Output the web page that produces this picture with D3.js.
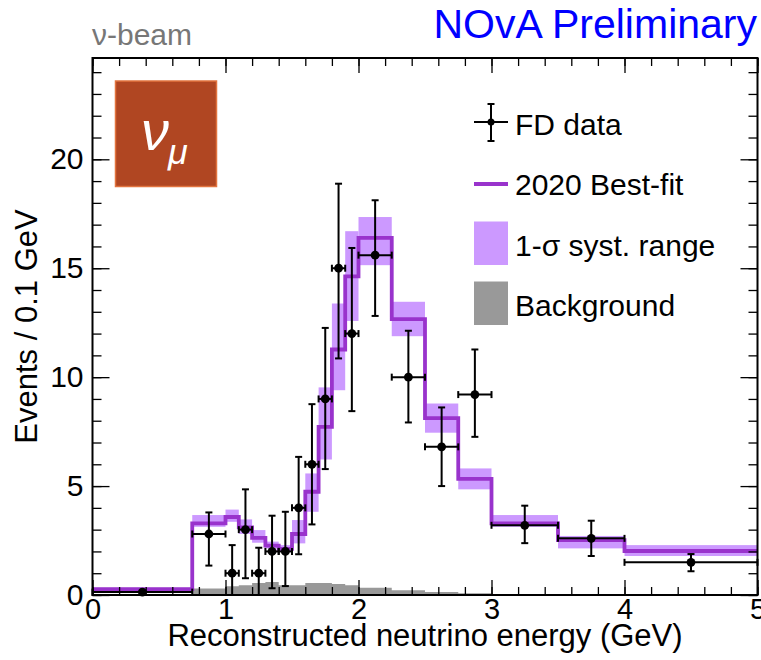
<!DOCTYPE html>
<html>
<head>
<meta charset="utf-8">
<script src="https://cdn.jsdelivr.net/npm/d3@7"></script>
<style>
  html, body { margin: 0; padding: 0; background: #fff; }
  svg { display: block; }
  text { font-family: "Liberation Sans", Arial, Helvetica, sans-serif; }
</style>
</head>
<body>
<svg id="chart" width="761" height="660"></svg>
<script>
// Reconstructed energy binning (GeV)
const binEdges = [0, 0.75, 1.0, 1.1, 1.2, 1.3, 1.4, 1.5, 1.6, 1.7, 1.8, 1.9, 2.0, 2.25, 2.5, 2.75, 3.0, 3.5, 4.0, 5.0];

// 2020 best-fit prediction, events / 0.1 GeV
const bestFit = [0.27, 3.29, 3.58, 3.10, 2.62, 2.27, 2.12, 2.80, 4.74, 7.72, 11.27, 14.63, 16.39, 12.66, 8.12, 5.33, 3.29, 2.52, 2.02];

// 1-sigma systematic range
const systLow  = [0.21, 3.13, 3.36, 2.80, 2.40, 2.14, 2.03, 2.37, 3.82, 6.22, 9.40, 12.58, 15.14, 11.88, 7.45, 4.85, 3.13, 2.14, 1.79];
const systHigh = [0.33, 3.67, 3.92, 3.47, 2.98, 2.45, 2.29, 3.44, 5.58, 9.53, 13.38, 16.70, 17.35, 13.46, 8.79, 5.81, 3.67, 2.71, 2.29];

// Predicted background
const background = [0.0, 0.30, 0.40, 0.45, 0.55, 0.60, 0.45, 0.45, 0.55, 0.55, 0.50, 0.45, 0.33, 0.22, 0.14, 0.08, 0.04, 0.02, 0.01];

// Far Detector data with asymmetric error bar ends
const dataVal  = [0.133, 2.8, 1.0, 3.0, 1.0, 2.0, 2.0, 4.0, 6.0, 9.0, 15.0, 12.0, 15.6, 10.0, 6.8, 9.2, 3.2, 2.6, 1.5];
const dataHigh = [0.20, 3.79, 2.29, 4.85, 2.17, 3.64, 3.82, 6.34, 8.76, 12.26, 18.88, 15.93, 18.12, 12.13, 8.61, 11.27, 4.10, 3.41, 1.88];
const dataLow  = [0.08, 1.35, 0.0, 0.77, 0.0, 0.31, 0.41, 1.87, 3.24, 5.78, 10.86, 8.44, 12.81, 7.92, 5.00, 7.26, 2.38, 1.79, 1.09];

const xTicks = [0, 1, 2, 3, 4, 5];
const yTicks = [0, 5, 10, 15, 20];

const legendLabels = ["FD data", "2020 Best-fit", "1-\u03c3 syst. range", "Background"];

const colors = {
  fit: "#9933cc",
  band: "#cc99ff",
  bkg: "#999999",
  data: "#000000",
  box: "#b04622",
  boxEdge: "#e2743f"
};

const svg = d3.select("#chart");
const frame = { left: 92.5, right: 757.5, top: 58, bottom: 595 };

const x = d3.scaleLinear().domain([0, 5]).range([frame.left, frame.right]);
const y = d3.scaleLinear().domain([0, 24.65]).range([frame.bottom, frame.top]);

const bins = binEdges.slice(0, -1).map((x0, i) => ({
  x0, x1: binEdges[i + 1], xc: (x0 + binEdges[i + 1]) / 2,
  fit: bestFit[i], lo: systLow[i], hi: systHigh[i], bkg: background[i],
  val: dataVal[i], eHi: dataHigh[i], eLo: dataLow[i]
}));

// step-shaped series: one point per bin left edge plus closing point
const stepPts = key => bins.map(b => [b.x0, b[key]]).concat([[binEdges[binEdges.length - 1], bins[bins.length - 1][key]]]);

const plot = svg.append("g");

// background (filled step histogram)
plot.append("path")
  .datum(stepPts("bkg"))
  .attr("fill", colors.bkg)
  .attr("d", d3.area().curve(d3.curveStepAfter).x(d => x(d[0])).y0(y(0)).y1(d => y(d[1])));

// systematic band
plot.append("g").selectAll("rect").data(bins).join("rect")
  .attr("x", d => x(d.x0))
  .attr("width", d => x(d.x1) - x(d.x0))
  .attr("y", d => y(d.hi))
  .attr("height", d => y(d.lo) - y(d.hi))
  .attr("fill", colors.band);

// best-fit line
plot.append("path")
  .datum(stepPts("fit"))
  .attr("fill", "none")
  .attr("stroke", colors.fit)
  .attr("stroke-width", 3.8)
  .attr("d", d3.line().curve(d3.curveStepAfter).x(d => x(d[0])).y(d => y(d[1])));

// data points with error bars and end caps
const cap = 3.5;
const pts = plot.append("g").attr("stroke", colors.data).attr("stroke-width", 2);
bins.forEach(b => {
  const cx = x(b.xc), cy = y(b.val);
  pts.append("line").attr("x1", x(b.x0)).attr("x2", x(b.x1)).attr("y1", cy).attr("y2", cy);
  pts.append("line").attr("x1", x(b.x0)).attr("x2", x(b.x0)).attr("y1", cy - cap).attr("y2", cy + cap);
  pts.append("line").attr("x1", x(b.x1)).attr("x2", x(b.x1)).attr("y1", cy - cap).attr("y2", cy + cap);
  pts.append("line").attr("x1", cx).attr("x2", cx).attr("y1", y(b.eHi)).attr("y2", y(b.eLo));
  pts.append("line").attr("x1", cx - cap).attr("x2", cx + cap).attr("y1", y(b.eHi)).attr("y2", y(b.eHi));
  if (b.eLo > 0) pts.append("line").attr("x1", cx - cap).attr("x2", cx + cap).attr("y1", y(b.eLo)).attr("y2", y(b.eLo));
});
plot.append("g").selectAll("circle").data(bins).join("circle")
  .attr("cx", d => x(d.xc)).attr("cy", d => y(d.val)).attr("r", 4.4)
  .attr("fill", colors.data);

// axes: ticks on all four sides, pointing inward
const xMinor = d3.range(0, 5.001, 0.2);
const yMinor = d3.range(0, 24.01, 1);
const tickStyle = g => {
  g.select(".domain").remove();
  g.selectAll(".tick line").attr("stroke", "#000").attr("stroke-width", 1.3);
};

svg.append("g").attr("transform", `translate(0,${frame.bottom})`)
  .call(d3.axisBottom(x).tickValues(xMinor).tickSize(-8).tickFormat("")).call(tickStyle);
svg.append("g").attr("transform", `translate(0,${frame.bottom})`)
  .call(d3.axisBottom(x).tickValues(xTicks).tickSize(-15).tickPadding(3).tickFormat(d3.format("d")))
  .call(tickStyle)
  .call(g => g.selectAll("text").attr("font-size", 29).attr("fill", "#000")
    .attr("font-family", "Liberation Sans, Arial, sans-serif"));
svg.append("g").attr("transform", `translate(0,${frame.top})`)
  .call(d3.axisTop(x).tickValues(xMinor).tickSize(-8).tickFormat("")).call(tickStyle);
svg.append("g").attr("transform", `translate(0,${frame.top})`)
  .call(d3.axisTop(x).tickValues(xTicks).tickSize(-15).tickFormat("")).call(tickStyle);

svg.append("g").attr("transform", `translate(${frame.left},0)`)
  .call(d3.axisLeft(y).tickValues(yMinor).tickSize(-9).tickFormat("")).call(tickStyle);
svg.append("g").attr("transform", `translate(${frame.left},0)`)
  .call(d3.axisLeft(y).tickValues(yTicks).tickSize(-17).tickPadding(9).tickFormat(d3.format("d")))
  .call(tickStyle)
  .call(g => g.selectAll("text").attr("font-size", 30).attr("fill", "#000")
    .attr("font-family", "Liberation Sans, Arial, sans-serif"));
svg.append("g").attr("transform", `translate(${frame.right},0)`)
  .call(d3.axisRight(y).tickValues(yMinor).tickSize(-9).tickFormat("")).call(tickStyle);
svg.append("g").attr("transform", `translate(${frame.right},0)`)
  .call(d3.axisRight(y).tickValues(yTicks).tickSize(-17).tickFormat("")).call(tickStyle);

// frame
svg.append("rect")
  .attr("x", frame.left).attr("y", frame.top)
  .attr("width", frame.right - frame.left).attr("height", frame.bottom - frame.top)
  .attr("fill", "none").attr("stroke", "#000").attr("stroke-width", 2);

// axis titles
svg.append("text")
  .attr("x", (frame.left + frame.right) / 2).attr("y", 646)
  .attr("text-anchor", "middle").attr("font-size", 31)
  .text("Reconstructed neutrino energy (GeV)");
svg.append("text")
  .attr("transform", `translate(37,${(frame.top + frame.bottom) / 2}) rotate(-90)`)
  .attr("text-anchor", "middle").attr("font-size", 31)
  .text("Events / 0.1 GeV");

// header texts
svg.append("text").attr("x", 757).attr("y", 38).attr("text-anchor", "end")
  .attr("font-size", 41).attr("fill", "#0000ff").text("NOvA Preliminary");
svg.append("text").attr("x", 92).attr("y", 45)
  .attr("font-size", 30).attr("fill", "#777777").text("\u03bd-beam");

// neutrino flavour badge
const badge = svg.append("g");
badge.append("rect").attr("x", 115.5).attr("y", 81).attr("width", 101).attr("height", 105.5)
  .attr("fill", colors.box).attr("stroke", colors.boxEdge).attr("stroke-width", 1.5);
badge.append("text").attr("x", 141).attr("y", 150)
  .attr("font-family", "Liberation Serif, Times New Roman, serif").attr("font-style", "italic")
  .attr("font-size", 56).attr("fill", "#fff").text("\u03bd");
badge.append("text").attr("x", 168).attr("y", 164)
  .attr("font-family", "Liberation Serif, Times New Roman, serif").attr("font-style", "italic")
  .attr("font-size", 36).attr("fill", "#fff").text("\u03bc");

// legend
const lg = svg.append("g");
const lx0 = 474, lx1 = 508, lxm = (lx0 + lx1) / 2, tx = 515;
const rowsY = [122, 184, 243, 303];
const textY = [135, 195, 256, 316];
// data entry
lg.append("line").attr("x1", lx0).attr("x2", lx1).attr("y1", rowsY[0]).attr("y2", rowsY[0]).attr("stroke", "#000").attr("stroke-width", 2);
lg.append("line").attr("x1", lxm).attr("x2", lxm).attr("y1", 104).attr("y2", 141).attr("stroke", "#000").attr("stroke-width", 2);
lg.append("line").attr("x1", lxm - cap).attr("x2", lxm + cap).attr("y1", 104).attr("y2", 104).attr("stroke", "#000").attr("stroke-width", 2);
lg.append("line").attr("x1", lxm - cap).attr("x2", lxm + cap).attr("y1", 141).attr("y2", 141).attr("stroke", "#000").attr("stroke-width", 2);
lg.append("circle").attr("cx", lxm).attr("cy", rowsY[0]).attr("r", 3.5).attr("fill", "#000");
// best-fit entry
lg.append("line").attr("x1", lx0).attr("x2", lx1).attr("y1", rowsY[1]).attr("y2", rowsY[1]).attr("stroke", colors.fit).attr("stroke-width", 3.8);
// band and background entries
lg.append("rect").attr("x", lx0).attr("y", 221.5).attr("width", lx1 - lx0).attr("height", 43.5).attr("fill", colors.band);
lg.append("rect").attr("x", lx0).attr("y", 281.5).attr("width", lx1 - lx0).attr("height", 43.5).attr("fill", colors.bkg);
legendLabels.forEach((t, i) => {
  lg.append("text").attr("x", tx).attr("y", textY[i]).attr("font-size", 30).text(t);
});
</script>
</body>
</html>
